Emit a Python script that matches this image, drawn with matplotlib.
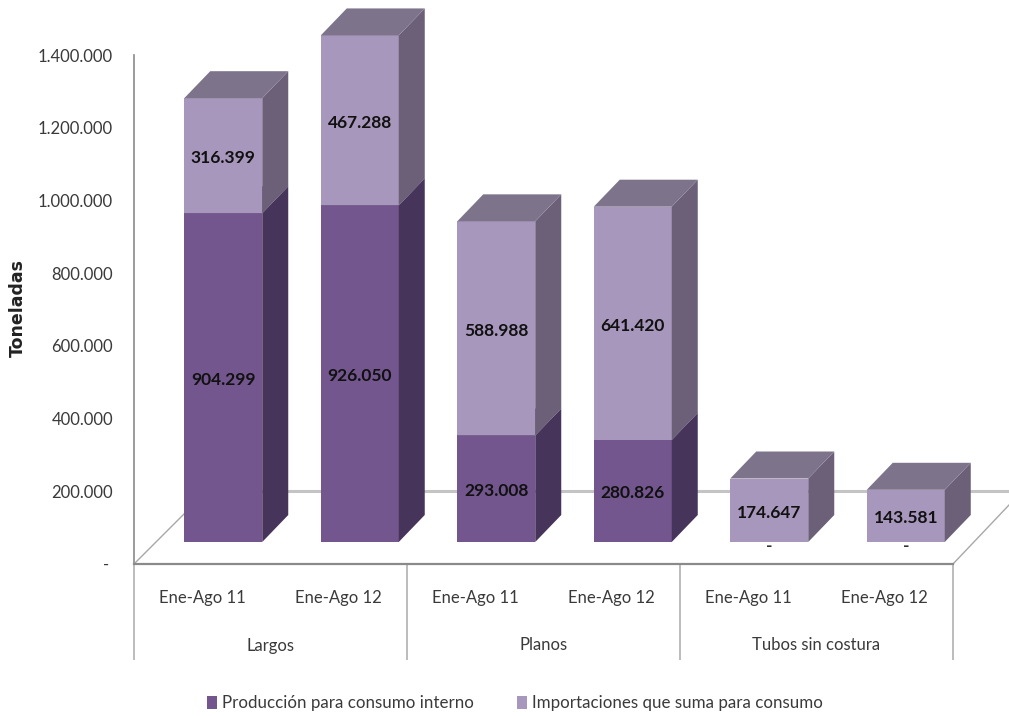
"""
Producción e importaciones de acero por tipo de producto, barras apiladas con efecto 3D.
"""

import matplotlib
matplotlib.use("Agg")
import matplotlib.pyplot as plt
from matplotlib.patches import Patch, Polygon
from matplotlib.transforms import Affine2D

periodos = ["Ene-Ago 11", "Ene-Ago 12", "Ene-Ago 11", "Ene-Ago 12", "Ene-Ago 11", "Ene-Ago 12"]
grupos = ["Largos", "Planos", "Tubos sin costura"]
produccion = [904299, 926050, 293008, 280826, 0, 0]
importaciones = [316399, 467288, 588988, 641420, 174647, 143581]
y_ticks = [0, 200000, 400000, 600000, 800000, 1000000, 1200000, 1400000]
y_tick_labels = ["- ", "200.000", "400.000", "600.000", "800.000", "1.000.000", "1.200.000", "1.400.000"]

TEXT_COLOR = "#3a3a3a"
AXIS_COLOR = "#8a8a8a"
DIVIDER_COLOR = "#b0b0b0"
FLOOR_COLOR = "#c4c4c4"
DARK = {"front": "#72568D", "side": "#47345A", "top": "#7D748C"}
LIGHT = {"front": "#A897BC", "side": "#6B6078", "top": "#7D748C"}

W, H = 1009, 716
LEFT, RIGHT, TOP, BOTTOM = 134, 953, 55, 564

plt.rcParams["font.family"] = ["Lato", "DejaVu Sans"]

fig = plt.figure(figsize=(W / 100, H / 100), dpi=100)
ax = fig.add_axes([LEFT / W, 1 - BOTTOM / H, (RIGHT - LEFT) / W, (BOTTOM - TOP) / H])
ax.set_xlim(-0.5, 5.5)
ax.set_ylim(0, 1400000)

px_x = 6 / (RIGHT - LEFT)
px_y = 1400000 / (BOTTOM - TOP)

# las barras van desplazadas respecto al plano frontal del eje
bar_trans = ax.transData + Affine2D().translate(21, 22)
width = 78 * px_x
depth_x = 26 * px_x
depth_y = 27 * px_y

# piso del gráfico
floor_x = 73 * px_x
floor_y = 73 * px_y
ax.plot([-0.5 + floor_x, 6.0], [floor_y, floor_y], color=FLOOR_COLOR, lw=2.2, clip_on=False, zorder=1)
ax.plot([-0.5, -0.5 + floor_x], [0, floor_y], color="#a8a8a8", lw=1.0, clip_on=False, zorder=1.1)
ax.plot([5.5, 5.5 + 56 * px_x], [0, 59 * px_y], color="#a8a8a8", lw=1.0, clip_on=False, zorder=1.1)


def draw_segment(x, bottom, value, colors, zorder):
    """Dibuja una barra con cara frontal, lateral y superior."""
    ax.bar(x, value, width=width, bottom=bottom, color=colors["front"], transform=bar_trans,
           clip_on=False, zorder=zorder)
    right = x + width / 2
    top = bottom + value
    ax.add_patch(Polygon([(right, bottom), (right + depth_x, bottom + depth_y),
                          (right + depth_x, top + depth_y), (right, top)],
                         facecolor=colors["side"], transform=bar_trans, clip_on=False, zorder=zorder))
    ax.add_patch(Polygon([(x - width / 2, top), (right, top),
                          (right + depth_x, top + depth_y), (x - width / 2 + depth_x, top + depth_y)],
                         facecolor=colors["top"], transform=bar_trans, clip_on=False, zorder=zorder))


def fmt(value):
    return f"{value:,}".replace(",", ".")


label_drop = 2.5 * px_y

for i in range(len(periodos)):
    p = produccion[i]
    m = importaciones[i]
    if p > 0:
        draw_segment(i, 0, p, DARK, 2)
    draw_segment(i, p, m, LIGHT, 3)

    # etiquetas de datos
    if p > 0:
        ax.text(i, p / 2 - label_drop, fmt(p), ha="center", va="center", fontsize=12.5, fontweight="bold",
                color="#111111", transform=bar_trans, zorder=5)
    else:
        ax.text(i, -4 * px_y, "-", ha="center", va="center", fontsize=12.5, fontweight="bold",
                color="#333333", transform=bar_trans, zorder=5)
    ax.text(i, p + m / 2 - label_drop, fmt(m), ha="center", va="center", fontsize=12.5, fontweight="bold",
            color="#111111", transform=bar_trans, zorder=5)

# ejes
for side in ["top", "right"]:
    ax.spines[side].set_visible(False)
ax.spines["left"].set_color(AXIS_COLOR)
ax.spines["left"].set_linewidth(1.2)
ax.spines["bottom"].set_color(AXIS_COLOR)
ax.spines["bottom"].set_linewidth(1.6)
ax.patch.set_alpha(0)

ax.set_yticks(y_ticks)
ax.set_yticklabels(y_tick_labels, fontsize=12, color=TEXT_COLOR, va="center_baseline")
ax.tick_params(axis="y", length=0, pad=15)

# eje x de dos niveles: divisores como ticks mayores, periodos como menores
ax.set_xticks([-0.5, 1.5, 3.5, 5.5])
ax.set_xticklabels([])
ax.tick_params(axis="x", which="major", length=69, width=1.2, color=DIVIDER_COLOR)
ax.set_xticks(range(len(periodos)), minor=True)
ax.set_xticklabels(periodos, minor=True, fontsize=12, color=TEXT_COLOR)
ax.tick_params(axis="x", which="minor", length=0, pad=18.5)

for j, grupo in enumerate(grupos):
    ax.annotate(grupo, xy=(0.5 + 2 * j, 0), xycoords=("data", "axes fraction"), xytext=(0, -81.5 / 100 * 72),
                textcoords="offset points", ha="center", va="center", fontsize=12, color=TEXT_COLOR)

fig.text(18 / W, 1 - 308 / H, "Toneladas", rotation=90, ha="center", va="center", fontsize=12.5,
         fontweight="bold", family="DejaVu Sans", color="#222222")

handles = [Patch(facecolor=DARK["front"]), Patch(facecolor=LIGHT["front"])]
fig.legend(handles, ["Producción para consumo interno", "Importaciones que suma para consumo"],
           loc="center", bbox_to_anchor=(515 / W, 1 - 703 / H), ncol=2, frameon=False, fontsize=12.2,
           labelcolor=TEXT_COLOR, handlelength=0.6, handleheight=0.8, handletextpad=0.3, columnspacing=2.5)

fig.savefig("out.png", dpi=100)
